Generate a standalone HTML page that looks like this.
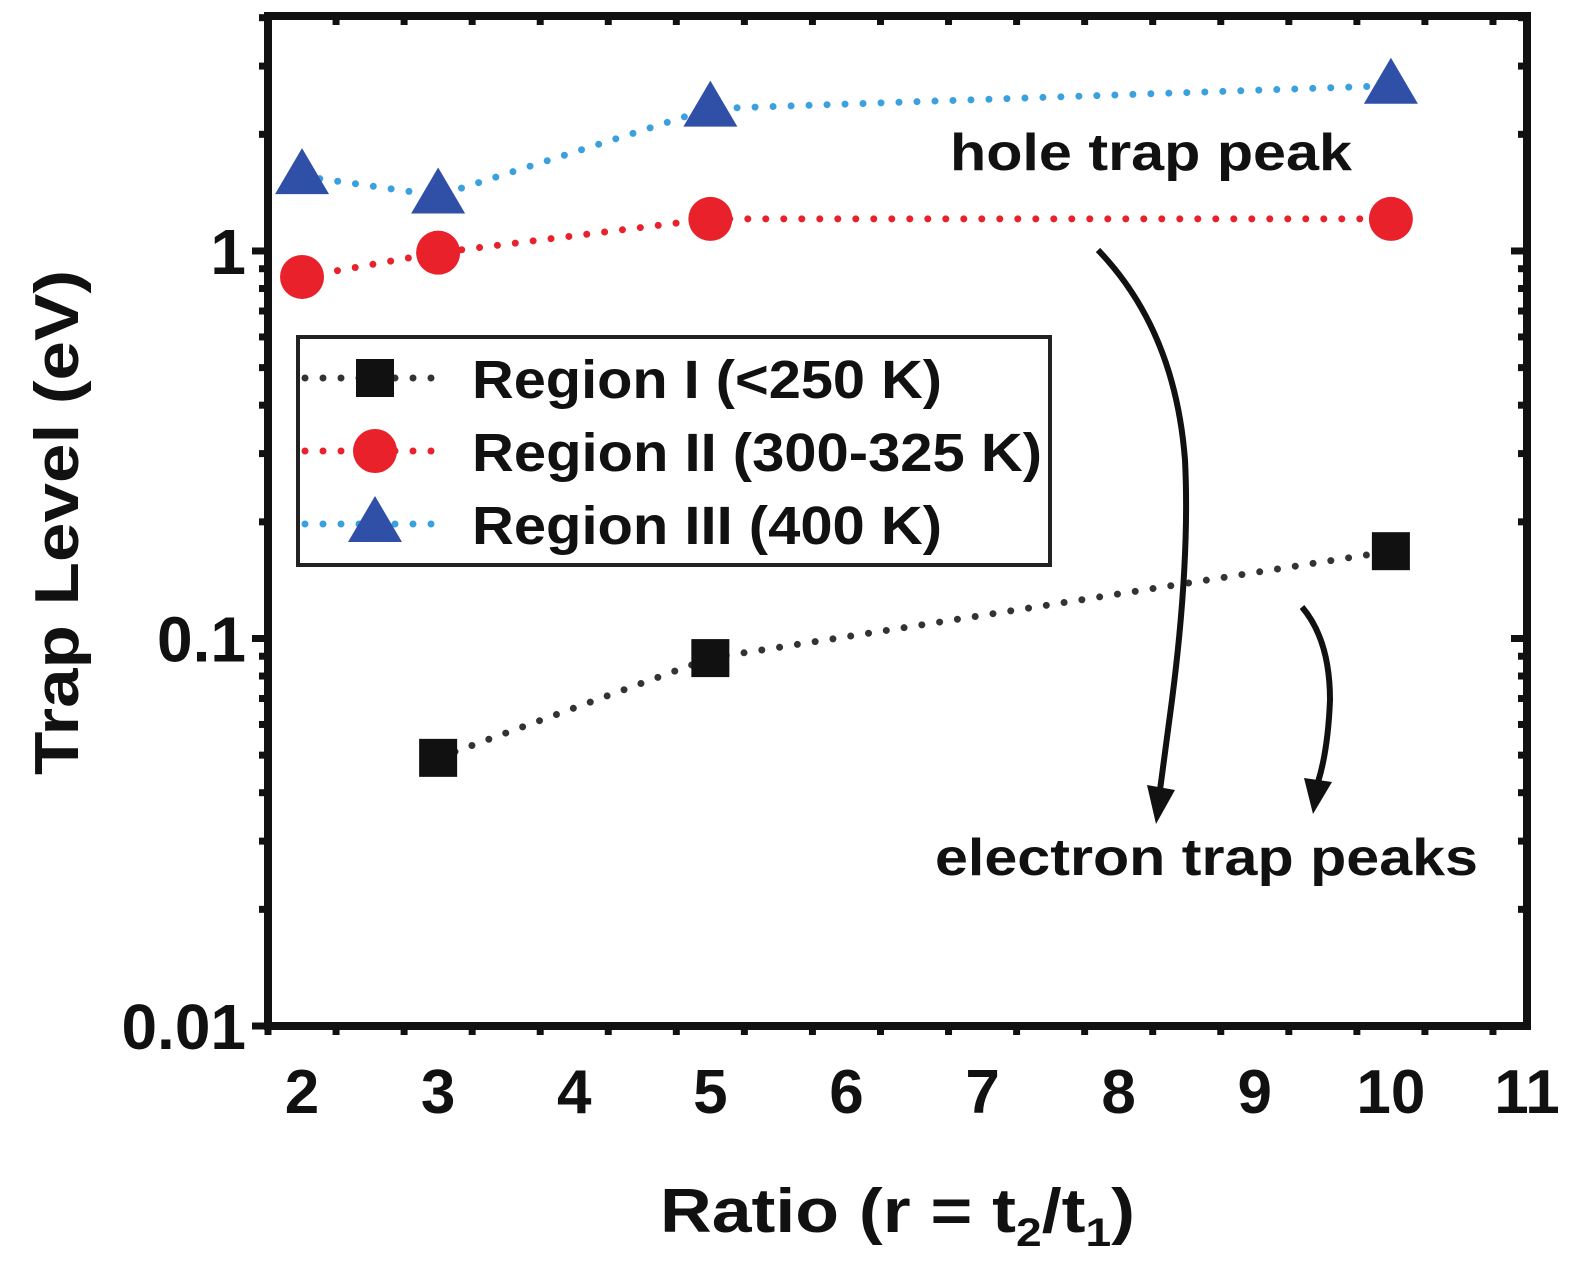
<!DOCTYPE html>
<html><head><meta charset="utf-8"><style>
body{margin:0;background:#fff}
svg{display:block}
text{font-family:"Liberation Sans",sans-serif;font-weight:bold;fill:#111}
</style></head><body>
<svg width="1575" height="1264" viewBox="0 0 1575 1264">
<g id="axes"></g>
<g id="series"></g>
<g>
<rect x="298" y="337" width="752" height="228" fill="#fff" stroke="#222" stroke-width="4"/>
<g id="legend"></g>
</g>
<text x="950" y="170" font-size="52" textLength="402" lengthAdjust="spacingAndGlyphs">hole trap peak</text>
<text x="935" y="875" font-size="52" textLength="543" lengthAdjust="spacingAndGlyphs">electron trap peaks</text>
<path d="M1098,250 Q1175,330 1185,460 Q1190,560 1172,700 L1160,790" fill="none" stroke="#111" stroke-width="6"/>
<polygon points="1147,785 1175,790 1156,824" fill="#111"/>
<path d="M1302,607 Q1330,640 1330,700 Q1328,750 1318,782" fill="none" stroke="#111" stroke-width="6"/>
<polygon points="1304,778 1332,782 1313,814" fill="#111"/>
<text x="660" y="1232" font-size="62" textLength="475" lengthAdjust="spacingAndGlyphs">Ratio (r = t<tspan font-size="40" dy="14">2</tspan><tspan dy="-14">/t</tspan><tspan font-size="40" dy="14">1</tspan><tspan dy="-14">)</tspan></text>
<text transform="translate(78,775) rotate(-90)" font-size="62" textLength="505" lengthAdjust="spacingAndGlyphs">Trap Level (eV)</text>
</svg>
<script>
const xCats=[2,3,5,10];
const region1=[null,0.0492,0.089,0.168];
const region2=[0.857,0.99,1.21,1.21];
const region3=[1.56,1.39,2.33,2.67];
const xTicks=[2,3,4,5,6,7,8,9,10,11];
const yTicks=[0.01,0.1,1];
const yTickLabels=["0.01","0.1","1"];
const seriesNames=["Region I (<250 K)","Region II (300-325 K)","Region III (400 K)"];
const legendWidths=[470,570,470];

const L=268,R=1527,T=16,B=1026;
const xmin=1.75,xmax=11,ymin=0.01,ymax=4.04;
const X=v=>L+(v-xmin)/(xmax-xmin)*(R-L);
const Y=v=>B-(Math.log10(v)-Math.log10(ymin))/(Math.log10(ymax)-Math.log10(ymin))*(B-T);
const NS="http://www.w3.org/2000/svg";
function mk(tag,attrs,parent){const e=document.createElementNS(NS,tag);for(const k in attrs)e.setAttribute(k,attrs[k]);parent.appendChild(e);return e;}
const ax=document.getElementById('axes');
const fr=mk('rect',{x:L,y:T,width:R-L,height:B-T,fill:'none',stroke:'#111','stroke-width':8},ax);


for(let v=xmin;v<=xmax+1e-9;v+=0.5){
 const major=Math.abs(v-Math.round(v))<1e-9&&xTicks.includes(Math.round(v));
 const len=major?16:9,x=X(v);
 const t1=mk('line',{x1:x,x2:x,y1:B,y2:B+len,stroke:'#111','stroke-width':7},ax);
 
 
 const t2=mk('line',{x1:x,x2:x,y1:T,y2:T+len,stroke:'#111','stroke-width':7},ax);
 
 
}
xTicks.forEach(v=>{const t=mk('text',{x:X(v),y:B+87,'font-size':62,'text-anchor':'middle'},ax);t.textContent=v;
 
 });
for(let d=-2;d<=0;d++){for(let m=1;m<=9;m++){const v=m*Math.pow(10,d);if(v>ymax)break;const y=Y(v);const len=m===1?16:9;
 const t1=mk('line',{x1:L-len,x2:L,y1:y,y2:y,stroke:'#111','stroke-width':7},ax);
 
 
 const t2=mk('line',{x1:R,x2:R-len,y1:y,y2:y,stroke:'#111','stroke-width':7},ax);
 
 }}
yTicks.forEach((v,i)=>{const t=mk('text',{x:L-22,y:Y(v)+23,'font-size':64,'text-anchor':'end'},ax);t.textContent=yTickLabels[i];
 
 });

const sg=document.getElementById('series');
const styles=[{c:'#111',line:'#333',m:'sq'},{c:'#e8212b',line:'#e8212b',m:'ci'},{c:'#3050a8',line:'#3aa0e0',m:'tr'}];
function marker(type,x,y,col,parent){
 let e;
 if(type==='sq')e=mk('rect',{x:x-19,y:y-19,width:38,height:38,fill:col},parent);
 else if(type==='ci')e=mk('circle',{cx:x,cy:y,r:22,fill:col},parent);
 else e=mk('polygon',{points:`${x},${y-28} ${x+27},${y+18} ${x-27},${y+18}`,fill:col},parent);
 return e;
}
[region1,region2,region3].forEach((vals,si)=>{
 const st=styles[si];const pts=[];
 vals.forEach((v,i)=>{if(v!=null)pts.push([X(xCats[i]),Y(v)]);});
 const pl=mk('polyline',{points:pts.map(p=>p.join(',')).join(' '),fill:'none',stroke:st.line,'stroke-width':7,'stroke-dasharray':'0 18','stroke-linecap':'round'},sg);
 
 
 pts.forEach(p=>{const m=marker(st.m,p[0],p[1],st.c,sg);
  
  });
});
const lg=document.getElementById('legend');
seriesNames.forEach((n,i)=>{const y=378+i*73;const st=styles[i];
 const l=mk('line',{x1:305,x2:445,y1:y,y2:y,stroke:st.line,'stroke-width':7,'stroke-dasharray':'0 18','stroke-linecap':'round'},lg);
 
 
 const m=marker(st.m,375,y,st.c,lg);
 
 
 const t=mk('text',{x:472,y:y+20,'font-size':54,textLength:legendWidths[i],lengthAdjust:'spacingAndGlyphs'},lg);t.textContent=n;
 
 
});
</script>
</body></html>
